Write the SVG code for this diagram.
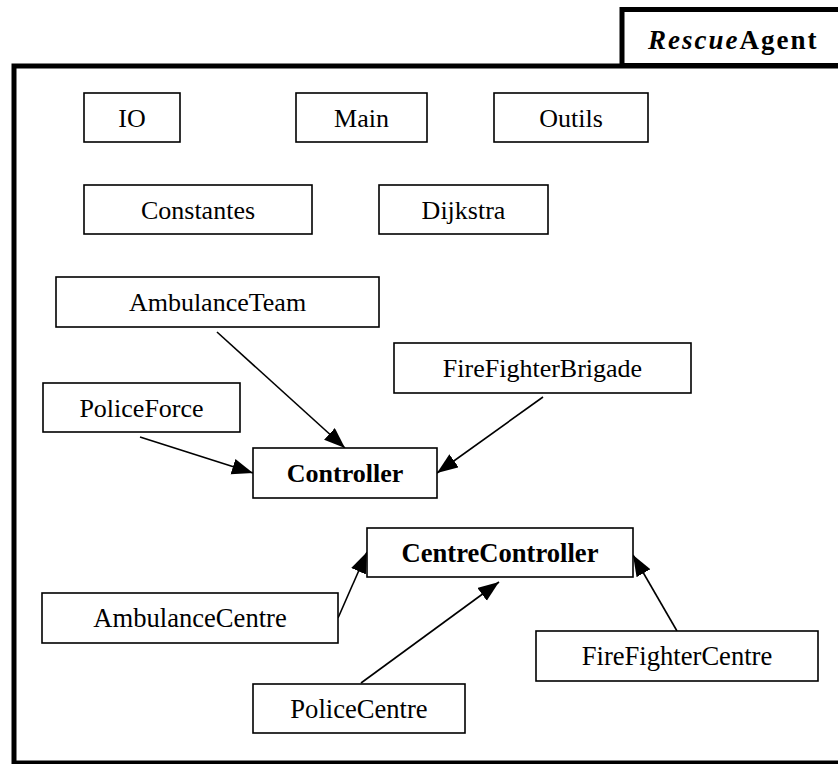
<svg xmlns="http://www.w3.org/2000/svg" width="838" height="764" viewBox="0 0 838 764">
<style>
  .box { fill: #fff; stroke: #000; stroke-width: 1.6; }
  .lbl { font-family: "Liberation Serif", "Times New Roman", serif; font-size: 26px; fill: #000; text-anchor: middle; }
  .big { font-size: 26.6px; }
  .bold { font-weight: bold; }
  .edge { stroke: #000; stroke-width: 1.6; fill: none; marker-end: url(#arrow); }
  .frame { fill: none; stroke: #000; stroke-width: 5; }
</style>
<defs>
  <marker id="arrow" markerUnits="userSpaceOnUse" markerWidth="24" markerHeight="18" refX="21" refY="8" orient="auto">
    <path d="M0,0 L21,8 L0,16 Z" fill="#000"/>
  </marker>
</defs>
<rect width="838" height="764" fill="#fff"/>
<g id="package">
  <rect class="frame" x="622" y="9.5" width="230" height="56" fill="#fff"/>
  <rect class="frame" x="14" y="66" width="840" height="697"/>
  <text x="648" y="49" font-family="'Liberation Serif', 'Times New Roman', serif" font-size="27" font-weight="bold" letter-spacing="2"><tspan font-style="italic">Rescue</tspan>Agent</text>
</g>
<g id="connectors">
  <line class="edge" x1="217" y1="332" x2="345" y2="448"/>
  <line class="edge" x1="140" y1="437" x2="253" y2="473"/>
  <line class="edge" x1="543" y1="397" x2="437" y2="473"/>
  <line class="edge" x1="338" y1="618" x2="367" y2="552"/>
  <line class="edge" x1="361" y1="683" x2="499" y2="582"/>
  <line class="edge" x1="677" y1="631" x2="633" y2="555"/>
</g>
<g id="IO"><rect class="box" x="84" y="93" width="96" height="49"/><text class="lbl" x="132" y="126.5">IO</text></g>
<g id="Main"><rect class="box" x="296" y="93" width="131" height="49"/><text class="lbl" x="361.5" y="126.5">Main</text></g>
<g id="Outils"><rect class="box" x="494" y="93" width="154" height="49"/><text class="lbl" x="571" y="126.5">Outils</text></g>
<g id="Constantes"><rect class="box" x="84" y="185" width="228" height="49"/><text class="lbl" x="198" y="218.5">Constantes</text></g>
<g id="Dijkstra"><rect class="box" x="379" y="185" width="169" height="49"/><text class="lbl" x="463.5" y="218.5">Dijkstra</text></g>
<g id="AmbulanceTeam"><rect class="box" x="56" y="277" width="323" height="50"/><text class="lbl" x="217.5" y="311">AmbulanceTeam</text></g>
<g id="FireFighterBrigade"><rect class="box" x="394" y="343" width="297" height="50"/><text class="lbl" x="542.5" y="377">FireFighterBrigade</text></g>
<g id="PoliceForce"><rect class="box" x="43" y="383" width="197" height="49"/><text class="lbl" x="141.5" y="416.5">PoliceForce</text></g>
<g id="Controller"><rect class="box" x="253" y="448" width="184" height="50"/><text class="lbl bold" x="345" y="482">Controller</text></g>
<g id="CentreController"><rect class="box" x="367" y="528" width="266" height="49"/><text class="lbl big bold" x="500" y="561.5">CentreController</text></g>
<g id="AmbulanceCentre"><rect class="box" x="42" y="593" width="296" height="50"/><text class="lbl big" x="190" y="627">AmbulanceCentre</text></g>
<g id="FireFighterCentre"><rect class="box" x="536" y="631" width="282" height="50"/><text class="lbl big" x="677" y="665">FireFighterCentre</text></g>
<g id="PoliceCentre"><rect class="box" x="253" y="684" width="212" height="49"/><text class="lbl big" x="359" y="717.5">PoliceCentre</text></g>
</svg>
